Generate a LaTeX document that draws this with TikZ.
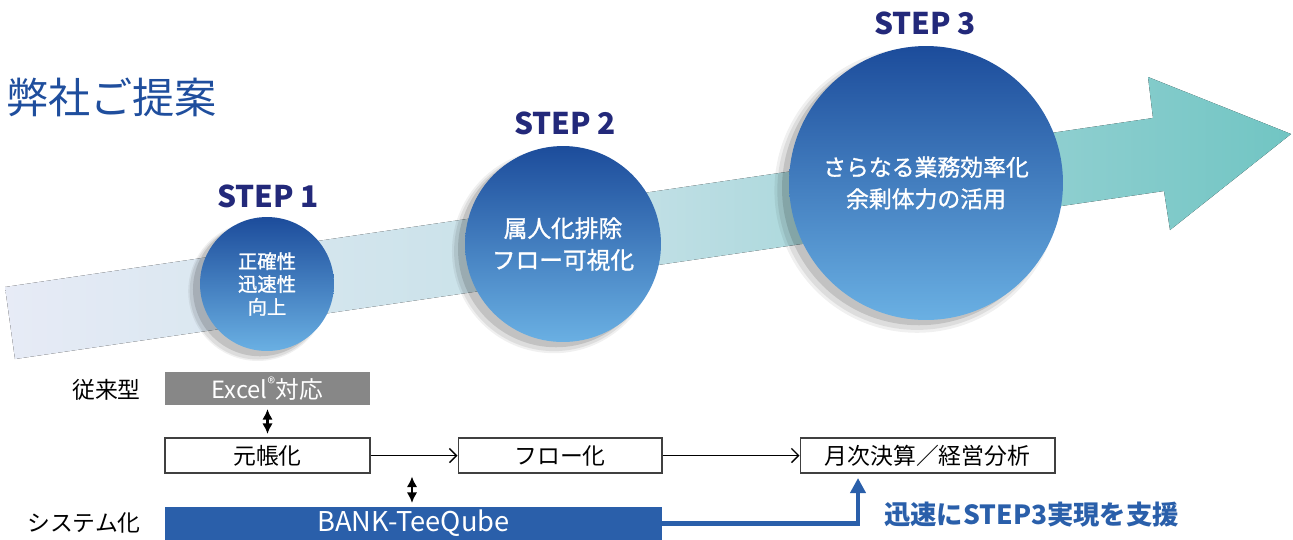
\documentclass[tikz,border=0pt]{standalone}
\usepackage{fontspec}
\setmainfont{Noto Sans CJK JP}
\newfontfamily\medfont[FakeBold=1.2]{Noto Sans CJK JP}
\usetikzlibrary{arrows.meta,shadows}
\definecolor{titleblue}{HTML}{1F4E9D}
\definecolor{stepnavy}{HTML}{23297A}
\definecolor{circtop}{HTML}{1C4C9B}
\definecolor{circbot}{HTML}{6AB0E3}
\definecolor{boxgray}{HTML}{878787}
\definecolor{bankblue}{HTML}{2A5FAA}
\definecolor{arrowleft}{HTML}{E7EBF6}
\definecolor{arrowmid}{HTML}{C0DFE5}
\definecolor{arrowright}{HTML}{71C5C3}

\begin{document}
\begin{tikzpicture}[x=0.02cm,y=-0.02cm,
    stepcircle/.style={circle, top color=circtop, bottom color=circbot, text=white, align=center, inner sep=0pt,
        general shadow={shadow xshift=-5pt, shadow yshift=-4pt, shadow scale=1.04, fill=black, opacity=0.06},
        general shadow={shadow xshift=-5pt, shadow yshift=-4pt, shadow scale=1.02, fill=black, opacity=0.08},
        general shadow={shadow xshift=-4pt, shadow yshift=-3pt, shadow scale=1.0, fill=black, opacity=0.12}},
    steplabel/.style={text=stepnavy, font=\fontsize{17}{20}\selectfont\bfseries},
    flowbox/.style={draw=black!75, line width=0.6pt, fill=white, minimum height=0.7cm, inner sep=0pt, font=\fontsize{13}{15}\selectfont},
    rowlabel/.style={anchor=east, font=\fontsize{13}{15}\selectfont},
    twoway/.style={line width=1.3pt, {Latex[length=6pt,width=6pt]}-{Latex[length=6pt,width=6pt]}, shorten <=2pt, shorten >=2pt}]
    \useasboundingbox (0,0) rectangle (1293,539);
    \node[anchor=west, text=titleblue, font=\fontsize{24}{28}\selectfont] (title) at (0,97) {弊社ご提案};
    \fill[left color=arrowleft, right color=arrowright, middle color=arrowmid]
        (5,287) -- (1153,118) -- (1148,77) -- (1291,134) -- (1170,230) -- (1164,191) -- (15,359) -- cycle;
    \node[stepcircle, minimum size=2.68cm, font=\medfont\fontsize{11}{13}\selectfont] (stepone) at (267,284) {正確性\\迅速性\\向上};
    \node[stepcircle, minimum size=3.92cm, font=\medfont\fontsize{13.5}{18}\selectfont] (steptwo) at (563,244) {属人化排除\\フロー可視化};
    \node[stepcircle, minimum size=5.48cm, font=\medfont\fontsize{13}{18}\selectfont] (stepthree) at (926,183) {さらなる業務効率化\\余剰体力の活用};
    \node[steplabel] (steponelabel) at (268,196) {STEP 1};
    \node[steplabel] (steptwolabel) at (565,123) {STEP 2};
    \node[steplabel] (stepthreelabel) at (925,23) {STEP 3};
    \node[rowlabel] (conventional) at (147,390) {従来型};
    \node[rowlabel] (systemized) at (147,523) {システム化};
    \node[flowbox, fill=boxgray, draw=none, text=white, minimum width=4.1cm, minimum height=0.66cm, font=\fontsize{13.5}{15}\selectfont] (excel) at (267.5,388.5) {Excel\textsuperscript{\fontsize{9}{9}\selectfont ®}対応};
    \node[flowbox, minimum width=4.1cm] (ledger) at (267.5,455.5) {元帳化};
    \node[flowbox, minimum width=4.08cm] (flowize) at (560,455.5) {フロー化};
    \node[flowbox, minimum width=5.1cm] (closing) at (927.5,455.5) {月次決算／経営分析};
    \node[flowbox, fill=bankblue, draw=none, text=white, minimum width=9.94cm, minimum height=0.66cm, font=\fontsize{15.5}{18}\selectfont] (bank) at (413.5,523.5) {BANK-TeeQube};
    \draw[line width=0.8pt, -{Straight Barb[length=4pt]}] (ledger) -- (flowize);
    \draw[line width=0.8pt, -{Straight Barb[length=4pt]}] (flowize) -- (closing);
    \draw[twoway] (excel) -- (ledger);
    \coordinate (linkup) at (412,473);
    \draw[twoway] (linkup) -- (linkup |- bank.north);
    \coordinate (supportend) at (858,478);
    \draw[bankblue, line width=2.6pt, -{Triangle[length=0.3cm,width=0.3cm]}] (bank.east) -| (supportend);
    \node[anchor=west, text=bankblue, font=\fontsize{15}{18}\selectfont\bfseries] (support) at (878,515) {迅速にSTEP3実現を支援};
\end{tikzpicture}
\end{document}
